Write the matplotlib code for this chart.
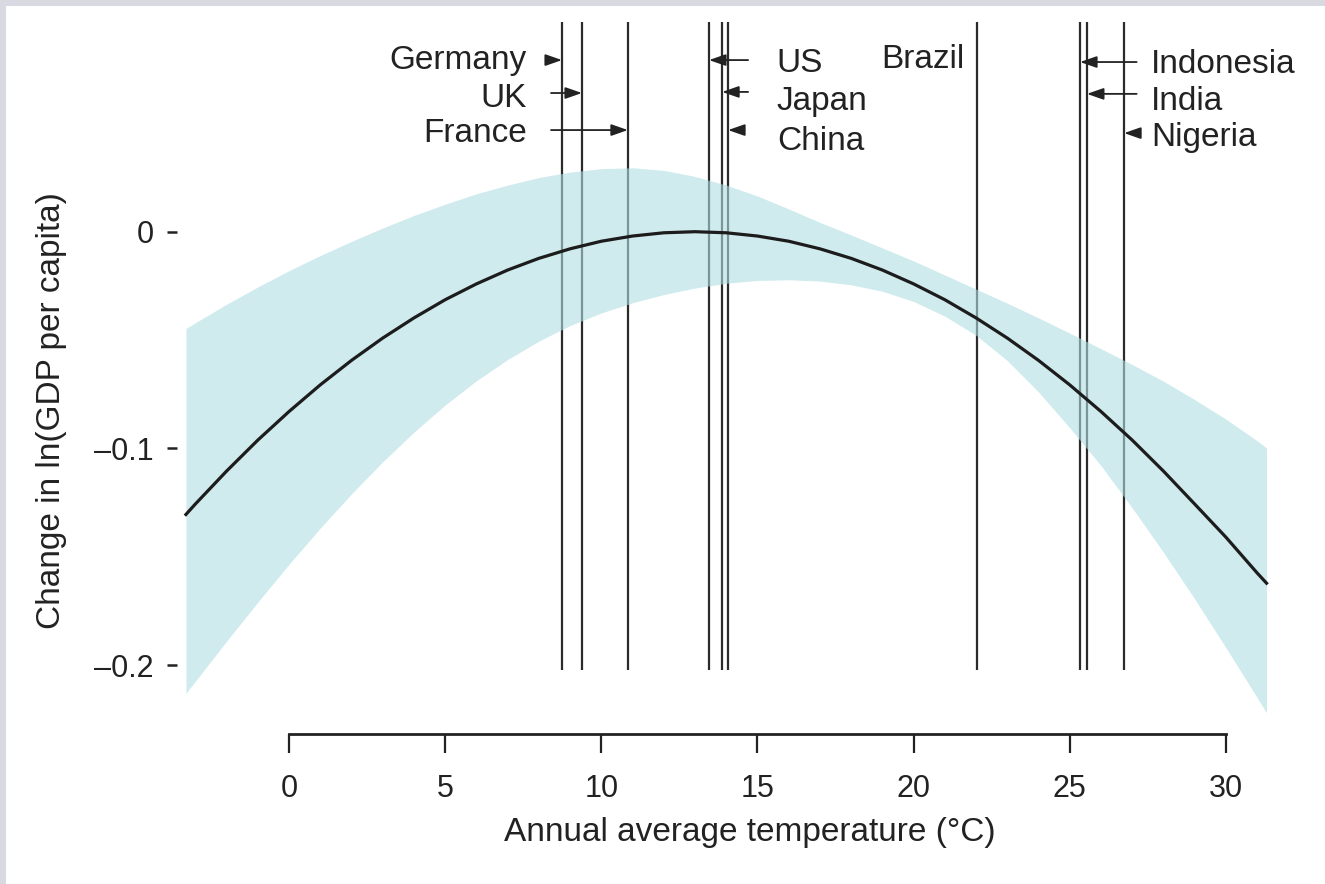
import matplotlib
matplotlib.use('Agg')
import matplotlib.pyplot as plt
from matplotlib.patches import Rectangle

plt.rcParams['font.family'] = ['Liberation Sans', 'DejaVu Sans']

# data
temp = [-3.3, -3, -2, -1, 0, 1, 2, 3, 4, 5, 6, 7, 8, 9, 10, 11, 12, 13, 14, 15,
        16, 17, 18, 19, 20, 21, 22, 23, 24, 25, 26, 27, 28, 29, 30, 31, 31.3]
effect = [-0.1305, -0.1257, -0.1105, -0.0962, -0.0830, -0.0707, -0.0594, -0.0491,
          -0.0398, -0.0314, -0.0241, -0.0177, -0.0123, -0.0079, -0.0044, -0.0020,
          -0.0005, 0.0000, -0.0005, -0.0020, -0.0044, -0.0079, -0.0123, -0.0177,
          -0.0241, -0.0314, -0.0398, -0.0491, -0.0594, -0.0707, -0.0830, -0.0962,
          -0.1105, -0.1257, -0.1410, -0.1575, -0.1622]
upper = [-0.0447, -0.0420, -0.0335, -0.0255, -0.0180, -0.0110, -0.0045, 0.0017,
         0.0075, 0.0127, 0.0175, 0.0215, 0.0250, 0.0275, 0.0291, 0.0295, 0.0283,
         0.0255, 0.0215, 0.0165, 0.0105, 0.0043, -0.0015, -0.0075, -0.0135,
         -0.0200, -0.0265, -0.0330, -0.0398, -0.0468, -0.0540, -0.0613, -0.0690,
         -0.0775, -0.0865, -0.0965, -0.0998]
lower = [-0.2130, -0.2075, -0.1890, -0.1710, -0.1535, -0.1368, -0.1210, -0.1062,
         -0.0925, -0.0800, -0.0688, -0.0590, -0.0505, -0.0433, -0.0375, -0.0328,
         -0.0290, -0.0260, -0.0238, -0.0225, -0.0222, -0.0228, -0.0245, -0.0275,
         -0.0322, -0.0390, -0.0478, -0.0595, -0.0740, -0.0905, -0.1080, -0.1275,
         -0.1480, -0.1695, -0.1920, -0.2150, -0.2220]

countries = ['Germany', 'UK', 'France', 'US', 'Japan', 'China',
             'Brazil', 'Indonesia', 'India', 'Nigeria']
country_temp = [8.74, 9.38, 10.85, 13.45, 13.87, 14.06, 22.03, 25.33, 25.55, 26.74]

xticks = [0, 5, 10, 15, 20, 25, 30]
yticks = [0, -0.1, -0.2]
ytick_labels = ['0', '\u20130.1', '\u20130.2']

# label layout: (text x, text baseline y, ha, arrow y, arrow tail x)
layout = {
    'Germany':   (7.62, 0.0751, 'right', 0.0792, 8.22),
    'UK':        (7.62, 0.0575, 'right', 0.0640, 8.39),
    'France':    (7.62, 0.0414, 'right', 0.0469, 8.39),
    'US':        (15.62, 0.0737, 'left', 0.0792, 14.70),
    'Japan':     (15.62, 0.0561, 'left', 0.0645, 14.70),
    'China':     (15.62, 0.0377, 'left', 0.0469, 14.58),
    'Brazil':    (21.64, 0.0757, 'right', None, None),
    'Indonesia': (27.60, 0.0732, 'left', 0.0783, 27.14),
    'India':     (27.60, 0.0561, 'left', 0.0636, 27.14),
    'Nigeria':   (27.60, 0.0395, 'left', 0.0455, 27.26),
}

ink = '#222222'

fig = plt.figure(figsize=(13.25, 8.84), dpi=100)
fig.patch.set_facecolor('#d8d9e1')
fig.add_artist(Rectangle((6 / 1325, 0), 1, (884 - 6) / 884,
                         transform=fig.transFigure, facecolor='white',
                         edgecolor='none', zorder=0))

ax = fig.add_axes([0.13358, 0.16968, 0.82702, 0.81335])
ax.set_facecolor('white')

ax.vlines(country_temp, -0.2023, 0.0968, color='#2b2b2b', lw=1.6, zorder=1)
ax.fill_between(temp, lower, upper, color='#b1dee3', alpha=0.6, lw=0, zorder=2)
ax.plot(temp, effect, color='#1c1c1c', lw=2.3, zorder=3, solid_joinstyle='round')

for name in countries:
    tx, ty, ha, ay, tail = layout[name]
    ax.text(tx, ty, name, ha=ha, va='baseline', fontsize=24, color=ink)
    if ay is not None:
        xline = country_temp[countries.index(name)]
        ax.annotate('', xy=(xline, ay), xytext=(tail, ay),
                    arrowprops=dict(arrowstyle='-|>,head_length=1.0,head_width=0.35',
                                    mutation_scale=10, color=ink, lw=1.3,
                                    shrinkA=0, shrinkB=0), zorder=4)

ax.set_xlim(-3.586, 31.5)
ax.set_ylim(-0.2318, 0.1)

for s in ['top', 'right', 'left']:
    ax.spines[s].set_visible(False)
ax.spines['bottom'].set_bounds(0, 30)
ax.spines['bottom'].set_linewidth(2.0)
ax.spines['bottom'].set_color(ink)

ax.set_xticks(xticks)
ax.set_xticklabels([str(t) for t in xticks])
ax.set_yticks(yticks)
ax.set_yticklabels(ytick_labels)
ax.tick_params(axis='x', direction='out', length=13.5, width=1.6, pad=15,
               labelsize=22, colors=ink)
ax.tick_params(axis='y', direction='out', length=7, width=1.8, pad=10,
               labelsize=22, colors=ink)

fig.text(52 / 1325, (884 - 411) / 884, 'Change in ln(GDP per capita)',
         rotation=90, ha='center', va='center', fontsize=24, color=ink)
fig.text(750 / 1325, (884 - 832) / 884, 'Annual average temperature (\u00b0C)',
         ha='center', va='center', fontsize=24, color=ink)

fig.savefig('out.png', dpi=100, facecolor=fig.get_facecolor())
